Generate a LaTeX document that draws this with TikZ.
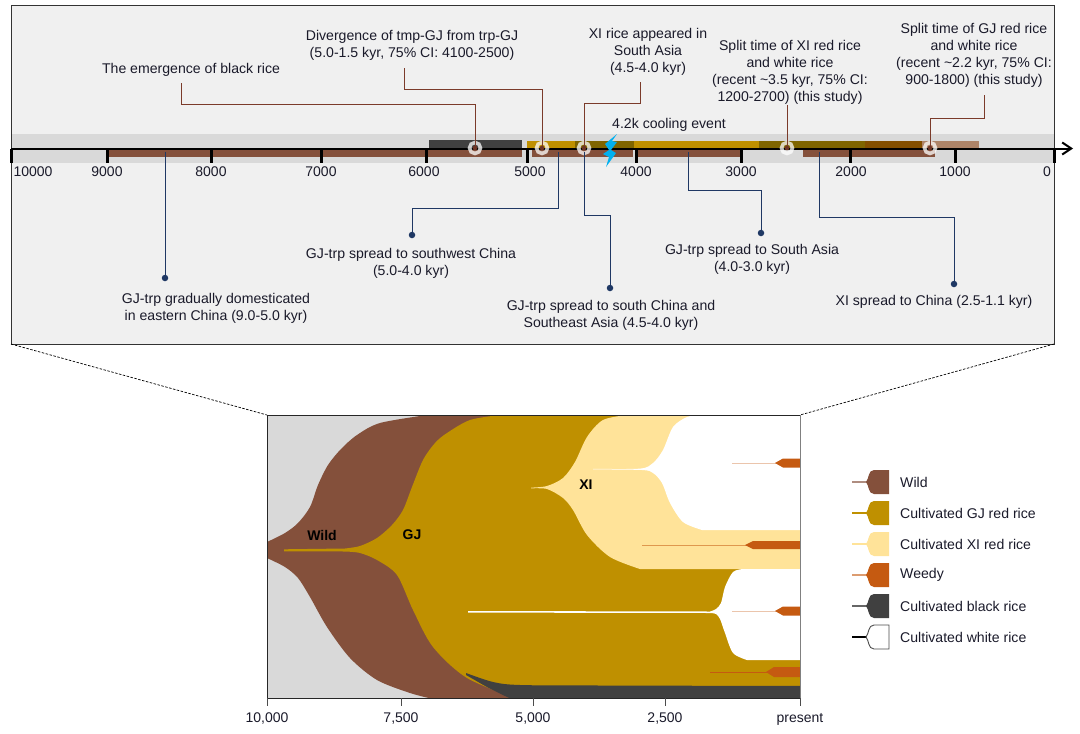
\documentclass[tikz,border=0pt]{standalone}
\usetikzlibrary{arrows.meta}
\usepackage{fontspec}
\setmainfont{Liberation Sans}
\definecolor{wildc}{HTML}{84503B}
\definecolor{gjc}{HTML}{BF9000}
\definecolor{xic}{HTML}{FFE399}
\definecolor{weedc}{HTML}{C55A11}
\definecolor{blackc}{HTML}{404040}
\definecolor{panelc}{HTML}{F0F0F0}
\definecolor{bandc}{HTML}{D9D9D9}
\definecolor{oliv}{HTML}{7F6500}
\definecolor{orbr}{HTML}{844F00}
\definecolor{ltbr}{HTML}{AE8468}
\definecolor{redl}{HTML}{7B3B2A}
\definecolor{bluel}{HTML}{1F3864}
\definecolor{txt}{HTML}{1A1A2A}
\definecolor{bolt}{HTML}{00B0F0}
\tikzset{
 lab/.style={font=\fontsize{14.1}{17}\selectfont,text=txt,align=center,inner sep=0pt},
 ticklab/.style={font=\fontsize{14}{15}\selectfont,text=txt,inner sep=0pt},
 bold/.style={font=\fontsize{14}{15}\selectfont\bfseries,inner sep=0pt},
 redline/.style={draw=redl,line width=1pt},
 blueline/.style={draw=bluel,line width=1pt},
 ring/.style={circle,draw=white,draw opacity=.75,line width=3.6pt,minimum size=11pt,inner sep=0pt},
 bdot/.style={circle,fill=bluel,minimum size=6.5pt,inner sep=0pt},
 axtick/.style={line width=3pt,black},
 smoothp/.style={smooth,tension=.5}
}
\begin{document}
\begin{tikzpicture}[x=1pt,y=-1pt]
\useasboundingbox (0,0) rectangle (1080,734);
% panel
\fill[panelc] (11,5) rectangle (1054,344);
\fill[bandc] (11,134) rectangle (1054,163);
\draw[black!80,line width=1pt] (11,5) rectangle (1054,344);
% period bars
\fill[blackc] (429,140) rectangle (522,149);
\fill[gjc] (527,141) rectangle (575,149);
\fill[oliv] (575,141) rectangle (634,149);
\fill[gjc] (634,141) rectangle (759,149);
\fill[oliv] (759,141) rectangle (865,149);
\fill[orbr] (865,141) rectangle (922,149);
\fill[ltbr] (922,141) rectangle (979,149);
\fill[wildc] (107,149) rectangle (522,157);
\fill[wildc] (532,149) rectangle (633,157);
\fill[wildc] (636,149) rectangle (741,157);
\fill[wildc] (803,149) rectangle (935,157);
% axis
\coordinate (axs) at (11,148.5);
\coordinate (axe) at (1073,148.5);
\draw[-{Straight Barb[length=9pt,width=12pt]},black,line width=2pt] (axs) -- (axe);
\foreach \x/\l/\lx in {11/10000/33,107/9000/107,211/8000/211,321/7000/321,426/6000/424,527/5000/530,636/4000/636,741/3000/741,850/2000/851,955/1000/955,1054/0/1047}{
 \draw[axtick] (\x,148.5) -- (\x,163);
 \node[ticklab] (t\l) at (\lx,172) {\l};
}
% connectors: red
\node[ring] (r1) at (475,148) {};
\node[ring] (r2) at (542,148) {};
\node[ring] (r3) at (584,148) {};
\node[ring] (r4) at (787,148) {};
\node[ring] (r5) at (930,148) {};
\node[lab] (l1) at (191,69.5) {The emergence of black rice};
\node[lab] (l2) at (412,45) {Divergence of tmp-GJ from trp-GJ\\(5.0-1.5 kyr, 75\% CI: 4100-2500)};
\node[lab] (l3) at (648,52) {XI rice appeared in\\South Asia\\(4.5-4.0 kyr)};
\node[lab] (l4) at (790,72) {Split time of XI red rice\\and white rice\\(recent \textasciitilde3.5 kyr, 75\% CI:\\1200-2700) (this study)};
\node[lab] (l5) at (974,55.5) {Split time of GJ red rice\\and white rice\\(recent \textasciitilde2.2 kyr, 75\% CI:\\900-1800) (this study)};
\coordinate (a1) at (181,83);
\coordinate (a2) at (404,68);
\coordinate (a3) at (640,82);
\coordinate (a4) at (787,105);
\coordinate (a5) at (984,95);
\draw[redline] (a1) -- ++(0,21) -| (r1.center);
\draw[redline] (a2) -- ++(0,21) -| (r2.center);
\draw[redline] (a3) -- ++(0,21) -| (r3.center);
\draw[redline] (a4) -- (r4.center);
\draw[redline] (a5) -- ++(0,23) -| (r5.center);
\foreach \n in {r1,r2,r3,r4,r5}{\fill[redl!90!black] (\n.center) circle (2.3pt);}
% connectors: blue
\node[bdot] (b1) at (165,278) {};
\node[bdot] (b2) at (412,235) {};
\node[bdot] (b3) at (610,288) {};
\node[bdot] (b4) at (761,233) {};
\node[bdot] (b5) at (954,284) {};
\coordinate (s1) at (165,152);
\coordinate (s2) at (558,152);
\coordinate (s3) at (584,152);
\coordinate (s4) at (688,152);
\coordinate (s5) at (819,152);
\draw[blueline] (s1) -- (b1);
\draw[blueline] (s2) -- ++(0,56) -| (b2);
\draw[blueline] (s3) -- ++(0,63) -| (b3);
\draw[blueline] (s4) -- ++(0,38) -| (b4);
\draw[blueline] (s5) -- ++(0,65) -| (b5);
\node[lab] (n1) at (216,308.5) {GJ-trp gradually domesticated\\in eastern China (9.0-5.0 kyr)};
\node[lab] (n2) at (411,263) {GJ-trp spread to southwest China\\(5.0-4.0 kyr)};
\node[lab] (n3) at (611,315) {GJ-trp spread to south China and\\Southeast Asia (4.5-4.0 kyr)};
\node[lab] (n4) at (752,259) {GJ-trp spread to South Asia\\(4.0-3.0 kyr)};
\node[lab] (n5) at (934,302) {XI spread to China (2.5-1.1 kyr)};
\node[lab,anchor=west] (n6) at (612,125) {4.2k cooling event};
% lightning
\fill[bolt] (617,134) -- (605,144) -- (609,150) -- (603,154) -- (609,157) -- (606,167) -- (616,153) -- (611,150) -- (617,142) -- (612,141) -- cycle;
% zoom lines
\coordinate (zl) at (267,415);
\coordinate (zr) at (800,415);
\draw[black,dash pattern=on 2.5pt off 1.5pt,line width=.7pt] (11,344) -- (zl);
\draw[black,dash pattern=on 2.5pt off 1.5pt,line width=.7pt] (1054,344) -- (zr);
% stream plot
\begin{scope}
\clip (267,415) rectangle (800,698);
\fill[bandc] (267,415) rectangle (800,698);
\fill[wildc] plot[smoothp] coordinates {(267,542) (285,533) (298,523) (310,507) (318,485) (328,465) (341,449) (357,435) (380,423) (427,415)} -- (520,410) -- (520,705) -- (433,699) -- plot[smoothp] coordinates {(433,699) (410,693) (377,680) (350,658) (327,627) (310,597) (298,578) (285,567) (267,558)} -- cycle;
\fill[gjc] (284,549.3) -- (345,548.5) -- plot[smoothp] coordinates {(345,548.5) (360,546) (377,538) (392,525) (403,510) (412,487) (423,460) (435,443) (447,433) (470,420) (500,415)} -- (805,410) -- (805,700) -- (520,700) -- plot[smoothp] coordinates {(520,700) (467,678) (433,647) (413,610) (397,575) (377,560) (360,553) (345,551.5)} -- (284,551.3) -- cycle;
\fill[blackc] plot[smoothp] coordinates {(466,673) (493,682) (520,685) (600,685.5) (805,686)} -- (805,700) -- (514,700) -- plot[smoothp] coordinates {(514,700) (505,696) (487,687) (473,679) (466,675)} -- cycle;
\fill[xic] plot[smoothp] coordinates {(531,487.6) (547,486) (563,478) (575,462) (587,437) (603,420) (627,415)} -- (805,410) -- (805,569) -- (640,569) -- plot[smoothp] coordinates {(640,569) (610,557) (587,535) (573,510) (563,498) (547,489) (531,488.4)} -- cycle;
\fill[white] plot[smoothp] coordinates {(593,468.8) (640,468.6) (653,463) (663,450) (673,427) (687,417) (700,415)} -- (805,414) -- (805,530) -- (702,530) -- plot[smoothp] coordinates {(702,530) (683,522) (670,503) (662,483) (653,473) (642,470) (593,469.4)} -- cycle;
\fill[white] (468,611) -- (710,611.5) -- plot[smoothp] coordinates {(710,611.5) (716,609) (721,603) (725,587) (733,572) (743,569)} -- (805,569) -- (805,660) -- (747,660) -- plot[smoothp] coordinates {(747,660) (733,653) (725,633) (720,619) (716,614) (710,613)} -- (468,612.6) -- cycle;
% weedy
\foreach \lx/\hx/\cy/\h/\c in {732/777/463/4.5/weedc!35!white,642/747/545/4/weedc!55!xic,732/777/611/4.5/weedc!35!white,710/768/672/5/weedc}{
 \draw[\c,line width=.9pt] (\lx,\cy) -- (\hx,\cy);
 \fill[weedc] (\hx-2,\cy) -- (\hx+6,\cy-\h) -- (805,\cy-\h) -- (805,\cy+\h) -- (\hx+6,\cy+\h) -- cycle;
}
\end{scope}
\draw[black!85,line width=1pt] (267,698) -- (267,415) -- (800,415);
\draw[black!85,line width=1pt] (267,698) -- (800,698);
\draw[black!50,line width=1pt] (800,415) -- (800,698);
\foreach \x/\l in {267/{10,000},401/{7,500},533/{5,000},665/{2,500},800/{present}}{
 \draw[black!70,line width=1pt] (\x,698) -- (\x,706);
 \node[ticklab] at (\x,719) {\l};
}
\node[bold] (wl) at (322,535) {Wild};
\node[bold] (gl) at (412,535) {GJ};
\node[bold] (xl) at (586,485) {XI};
% legend
\newcommand{\legshape}[4]{%
 \draw[#2,line width=1.1pt] (852,#1) -- (867,#1);
 \path[#3] (866,#1) .. controls (869,#1-3) and (868,#1-12) .. (874,#1-12) -- (889,#1-12) -- (889,#1+12) -- (874,#1+12) .. controls (868,#1+12) and (869,#1+3) .. (866,#1) -- cycle;
 \node[lab,anchor=west] at (900,#1) {#4};
}
\legshape{482}{wildc!65!white}{fill=wildc}{Wild}
\legshape{513}{gjc}{fill=gjc}{Cultivated GJ red rice}
\legshape{544}{xic}{fill=xic}{Cultivated XI red rice}
\legshape{575}{weedc!60!white}{fill=weedc}{Weedy}
\legshape{606}{black!60}{fill=blackc}{Cultivated black rice}
\legshape{637}{black}{draw=black!70,fill=white,line width=.9pt}{Cultivated white rice}
\end{tikzpicture}
\end{document}
